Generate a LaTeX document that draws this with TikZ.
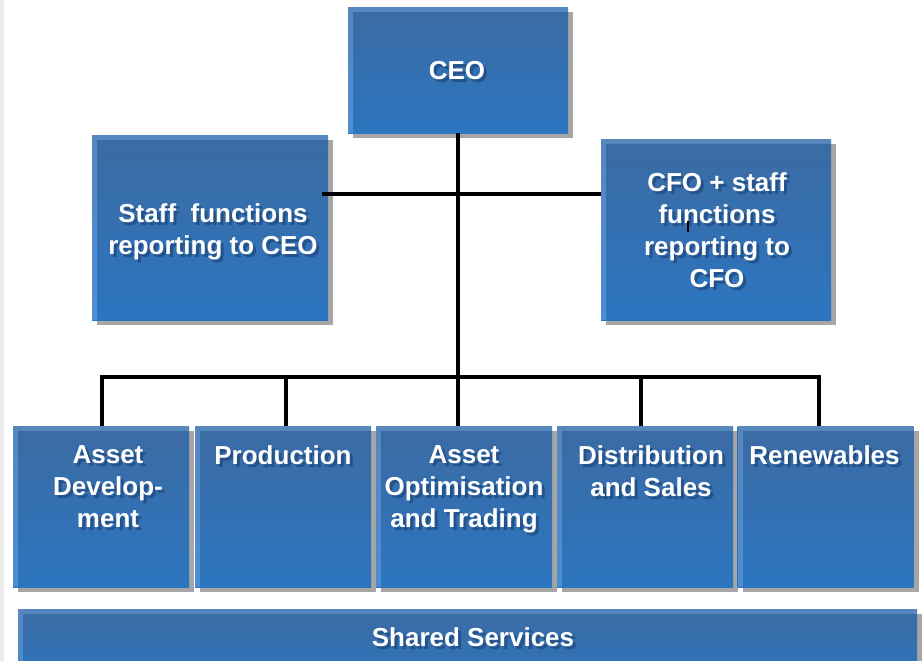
\documentclass[tikz,border=0pt]{standalone}
\usepackage{fontspec}
\setmainfont{Liberation Sans}
\usepackage{tikz}
\usetikzlibrary{positioning,calc,shadows}
\definecolor{orgtop}{HTML}{3B6BA3}
\definecolor{orgbottom}{HTML}{2C75C0}
\definecolor{orgrim}{HTML}{9CC8FF}
\definecolor{orgshadow}{HTML}{A6A6A6}
\definecolor{orgtextshade}{HTML}{24528A}
\definecolor{pageedge}{HTML}{EBEBEB}

\tikzset{
  orgsize/.style 2 args={minimum width=#1*0.75pt,minimum height=#2*0.75pt},
  orgbox/.style={inner sep=0pt,top color=orgtop,bottom color=orgbottom,
    drop shadow={shadow xshift=3.75pt,shadow yshift=-3.75pt,fill=orgshadow,opacity=1},
    path picture={
      \fill[orgrim,opacity=.3] (path picture bounding box.north west)
        rectangle ([yshift=-3.75pt]path picture bounding box.north east);
      \fill[orgrim,opacity=.3] ([yshift=-3.75pt]path picture bounding box.north west)
        rectangle ([xshift=3.75pt]path picture bounding box.south west);
    }},
  orgtext/.style={inner sep=0pt,align=center,text=white,
    font=\fontsize{19.5}{24}\selectfont\bfseries},
  orgshade/.style={orgtext,text=orgtextshade},
  orgline/.style={line width=2.6pt,line join=miter}
}

% white label with its dark copy set just behind it
\newcommand{\orglabel}[4]{%
  \node[orgshade,#2] (#1-s) at ([shift={(3,3)}]#3) {#4};
  \node[orgtext,#2] (#1-txt) at (#3) {#4};}

\begin{document}
\begin{tikzpicture}[x=0.75pt,y=-0.75pt]
  \useasboundingbox (0,0) rectangle (922,661);
  \clip (0,0) rectangle (922,661);
  \fill[white] (0,0) rectangle (922,661);
  \fill[pageedge] (0,0) rectangle (4,661);

  % top level
  \node[orgbox,orgsize={220}{126}] (ceo) at (458,70) {};
  \node[orgbox,orgsize={236}{185}] (staff) at (210,227.5) {};
  \node[orgbox,orgsize={230}{181}] (cfo) at (716,229.5) {};
  \orglabel{ceo}{}{457,71}{CEO}
  \orglabel{staff}{}{213,232}{Staff~ functions\\reporting to CEO}
  \orglabel{cfo}{}{717,230}{CFO + staff\\functions\\reporting to\\CFO}

  % business units
  \foreach \nm/\cx/\tx/\lab in {
      ad/101/108/{Asset\\Develop-\\ment},
      prod/283/283/Production,
      aot/464/464/{Asset\\Optimisation\\and Trading},
      ds/645/651/{Distribution\\and Sales},
      ren/825.5/824.5/Renewables} {
    \node[orgbox,orgsize={176}{161}] (\nm) at (\cx,506.5) {};
    \orglabel{\nm}{anchor=north}{\tx,445}{\lab}
  }

  \node[orgbox,orgsize={899}{80}] (shared) at (467.5,649) {};
  \orglabel{shared}{}{473,637}{Shared Services}

  % reporting lines
  \coordinate (tee) at (458,194);
  \coordinate (bus) at (458,377);
  \draw[orgline] (ceo.south) -- (bus);
  \draw[orgline] ($(staff.east |- tee)+(-6,0)$) -- (cfo.west |- tee);
  \foreach \dx [count=\i] in {102,286,458,641,819}
    \coordinate (drop\i) at (\dx,377);
  \draw[orgline] (drop1 |- ad.north) -- (drop1) -- (drop5) -- (drop5 |- ren.north);
  \foreach \nm [count=\i from 2] in {prod,aot,ds}
    \draw[orgline] (drop\i) -- (drop\i |- \nm.north);
  \draw[line width=1.2pt] (688,221) -- (688,232);
\end{tikzpicture}
\end{document}
